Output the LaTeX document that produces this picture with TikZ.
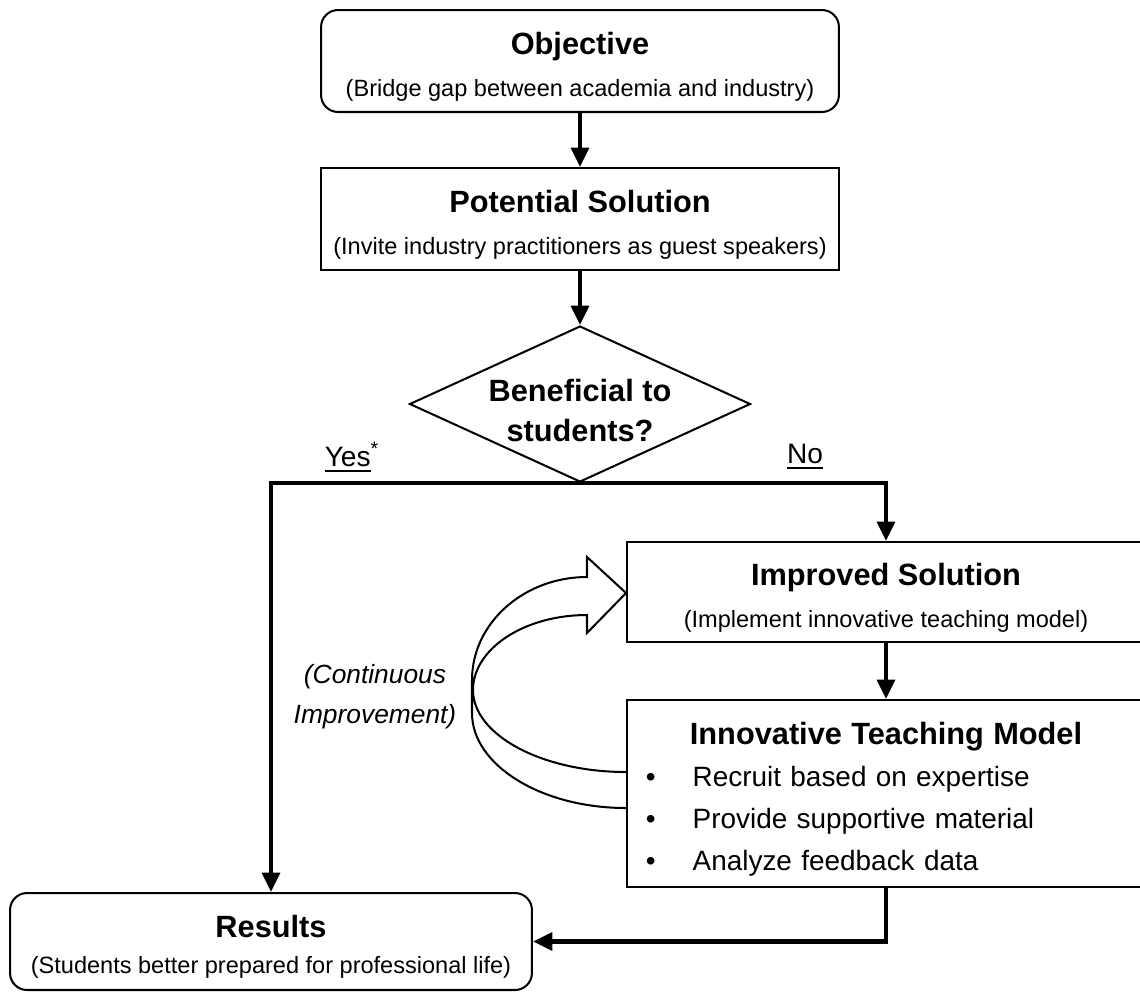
\documentclass[tikz,border=0pt]{standalone}
\usepackage{fontspec}
\setmainfont{Liberation Sans}
\usetikzlibrary{positioning}
\usetikzlibrary{shapes.geometric}
\usetikzlibrary{arrows.meta}

\newcommand{\ttl}[1]{{\fontsize{17.5}{21}\selectfont\bfseries\rule{0pt}{19pt}#1}}
\newcommand{\undl}[1]{\setbox0\hbox{#1}\rlap{\rule[-3.2pt]{\wd0}{1.3pt}}\box0}
\newcommand{\tmitem}[1]{\makebox[10.2cm][l]{\hspace*{8.5pt}\textbullet\hspace*{21pt}#1}}

\tikzset{
	box/.style={draw, line width=1.15pt, minimum width=10.36cm, minimum height=2.04cm, inner sep=2pt, align=center, font=\fontsize{13.4}{24}\selectfont},
	roundbox/.style={box, rounded corners=0.34cm},
	decision/.style={diamond, draw, line width=1.15pt, aspect=2.2, inner sep=-3pt, minimum width=6.82cm, minimum height=3.12cm, align=center, font=\fontsize{17.5}{22.8}\selectfont\bfseries},
	flow/.style={line width=2.5pt, -{Triangle[length=11pt, width=10pt]}},
	lbl/.style={font=\fontsize{16}{19}\selectfont},
}

\begin{document}
\begin{tikzpicture}[x=0.02cm, y=-0.02cm]
	\clip (0,0) rectangle (1140,992);
	% main column
	\node[roundbox] (obj) at (580,61) {\ttl{Objective}\\(Bridge gap between academia and industry)};
	\node[box] (pot) at (580,219) {\ttl{Potential Solution}\\(Invite industry practitioners as guest speakers)};
	\node[decision] (dec) at (580,404) {\rule{0pt}{20pt}Beneficial to\\students?};
	% right column
	\node[box, minimum height=2cm] (imp) at (886,592) {\ttl{Improved Solution}\\(Implement innovative teaching model)};
	\node[box, minimum height=3.74cm, text width=10.2cm, inner xsep=0.08cm, font=\fontsize{15.9}{24}\selectfont] (itm) at (886,793.5) {\ttl{Innovative Teaching Model}\\
		\tmitem{Recruit based on expertise}\\
		\tmitem{Provide supportive material}\\
		\tmitem{Analyze feedback data}};
	% end
	\node[roundbox, minimum width=10.44cm, minimum height=1.94cm, font=\fontsize{13.4}{20.5}\selectfont] (res) at (271,941.5) {\ttl{Results}\\(Students better prepared for professional life)};

	\node[lbl] (yes) at (352,457) {\undl{Yes}\textsuperscript{*}};
	\node[lbl] (no) at (805,457) {\undl{No}};
	\node[lbl, font=\fontsize{15}{22.8}\selectfont\itshape, align=center] (loopnote) at (375,697) {(Continuous\\Improvement)};

	\draw[flow] (obj.south) -- (pot.north);
	\draw[flow] (pot.south) -- (dec.north);
	\draw[flow] (dec.south) -| (res.north);
	\draw[flow] (dec.south) -| (imp.north);
	\draw[flow] (imp.south) -- (itm.north);
	\draw[flow] (itm.south) |- (res.east);

	% continuous improvement loop
	\draw[line width=1.15pt, line join=miter] (itm.west |- 0,808) .. controls (541,808) and (472,765) .. (472,713) -- (472,680)
		.. controls (472,623) and (524,577) .. (587,577) -- (587,557) -- (imp.west |- 0,593) -- (587,633) -- (587,615)
		.. controls (524,615) and (473,649) .. (473,690) .. controls (473,735) and (542,772) .. (itm.west |- 0,772);
\end{tikzpicture}
\end{document}
